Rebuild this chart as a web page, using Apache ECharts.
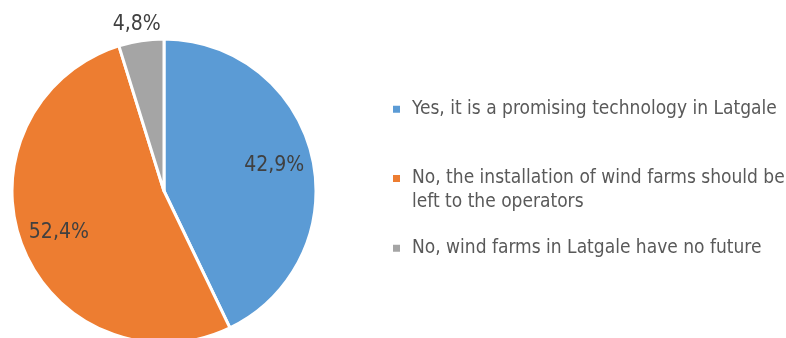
<!DOCTYPE html>
<html>
<head>
<meta charset="utf-8">
<script src="https://cdn.jsdelivr.net/npm/echarts@6/dist/echarts.min.js"></script>
<style>
  html, body { margin: 0; padding: 0; background: #ffffff; }
  #chart { width: 786px; height: 338px; }
</style>
</head>
<body>
<div id="chart"></div>
<script>
// Survey answers and their shares (%)
const categories = [
  'Yes, it is a promising technology in Latgale',
  'No, the installation of wind farms should be left to the operators',
  'No, wind farms in Latgale have no future'
];
const shares = [42.9, 52.4, 4.8];

const FONT = "'DejaVu Sans Condensed', 'Liberation Sans Narrow', sans-serif";
const fmtPct = v => v.toFixed(1).replace('.', ',') + '%';

// Slices; only the small slice carries its label outside the pie
const pieData = categories.map((name, i) => ({
  name,
  value: shares[i],
  label: { show: i === 2 }
}));
// Label-only copy: the other two labels sit further out inside their slices
const labelData = categories.map((name, i) => ({
  name,
  value: shares[i],
  label: { show: i !== 2 }
}));

const legendBase = {
  orient: 'vertical',
  left: 393,
  padding: 0,
  icon: 'rect',
  itemWidth: 7,
  itemHeight: 7,
  itemStyle: { borderWidth: 0 },
  selectedMode: false,
  textStyle: { fontFamily: FONT, fontSize: 19, lineHeight: 23.5, color: '#595959', padding: [0, 0, 0, 7] }
};

// Square swatch drawn in the upper part of a taller icon box, so it lines up
// with the first line of a two-line legend entry
const TOP_SWATCH = 'path://M0,0H7V7H0Z M0,30H7';

const chart = echarts.init(document.getElementById('chart'), null, { renderer: 'canvas' });
chart.setOption({
  backgroundColor: '#ffffff',
  color: ['#5B9BD5', '#ED7D31', '#A5A5A5'],
  animation: false,
  legend: [
    Object.assign({}, legendBase, { top: 97.5, data: [categories[0]] }),
    Object.assign({}, legendBase, {
      top: 166.5,
      itemHeight: 30,
      data: [{ name: categories[1], icon: TOP_SWATCH }],
      formatter: name => name.replace('should be ', 'should be\n')
    }),
    Object.assign({}, legendBase, { top: 236.5, data: [categories[2]] })
  ],
  series: [
    {
      type: 'pie',
      center: [164, 191],
      radius: 152,
      startAngle: 90,
      clockwise: true,
      avoidLabelOverlap: false,
      silent: true,
      emphasis: { disabled: true },
      itemStyle: { borderColor: '#ffffff', borderWidth: 3 },
      label: {
        position: 'outside',
        formatter: p => fmtPct(p.value),
        fontFamily: FONT,
        fontSize: 21,
        color: '#404040',
        distanceToLabelLine: -22
      },
      labelLine: { show: false, length: 16, length2: 0 },
      data: pieData
    },
    {
      type: 'pie',
      center: [164, 191],
      radius: [0, 220],
      startAngle: 90,
      clockwise: true,
      avoidLabelOverlap: false,
      silent: true,
      emphasis: { disabled: true },
      itemStyle: { color: 'rgba(0,0,0,0)', borderWidth: 0 },
      label: {
        position: 'inside',
        formatter: p => fmtPct(p.value),
        fontFamily: FONT,
        fontSize: 21,
        color: '#404040'
      },
      labelLine: { show: false },
      data: labelData
    }
  ]
});
</script>
</body>
</html>
